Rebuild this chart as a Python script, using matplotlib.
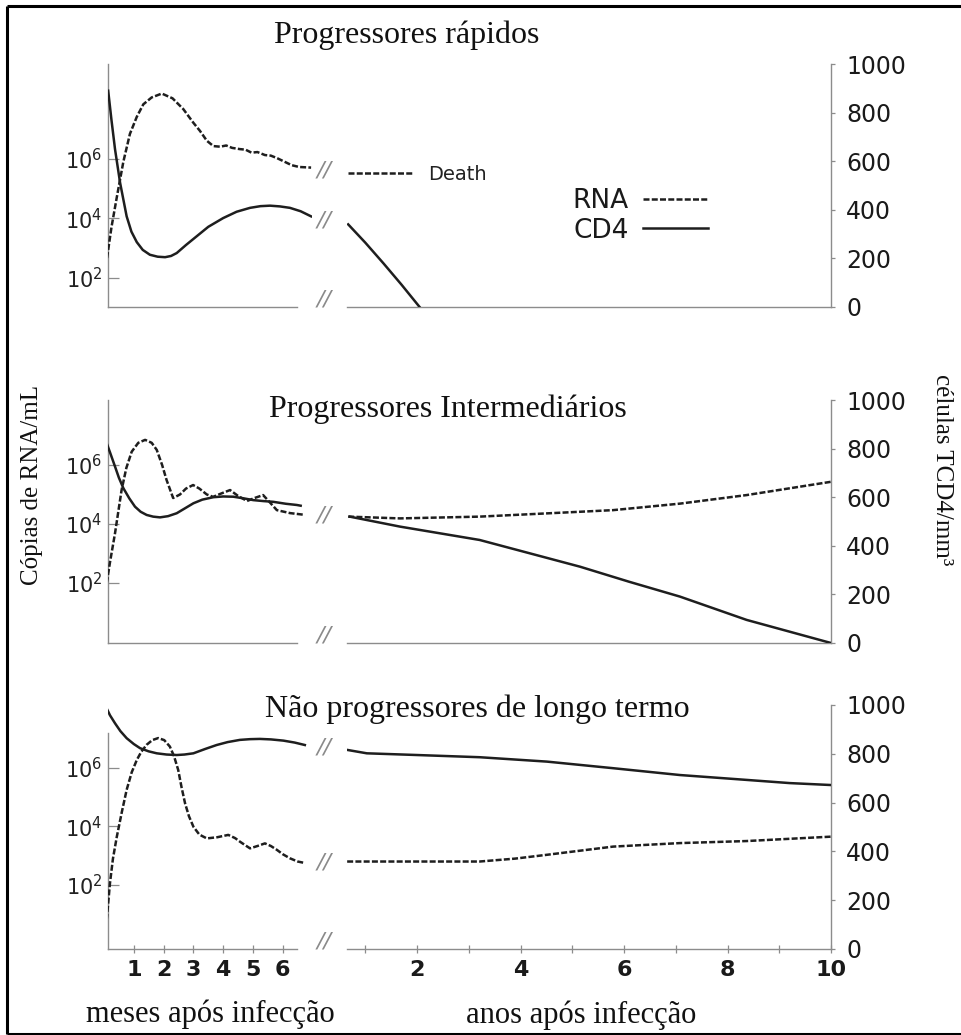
import numpy as np
import matplotlib
matplotlib.use("Agg")
import matplotlib.pyplot as plt
from matplotlib.lines import Line2D
from matplotlib.ticker import NullLocator
from matplotlib.transforms import blended_transform_factory

# ---------------- data ----------------
# Progressores rápidos
rap_rna_months = [0.10, 0.25, 0.43, 0.65, 0.87, 1.10, 1.32, 1.60, 1.94, 2.30, 2.66, 3.00, 3.22,
                  3.45, 3.67, 3.90, 4.10, 4.30, 4.55, 4.75, 4.95, 5.15, 5.40, 5.60, 5.80, 6.05,
                  6.30, 6.55, 6.95]
rap_rna_months_log = [2.67, 3.70, 4.71, 5.90, 6.83, 7.40, 7.82, 8.05, 8.18, 8.02, 7.66, 7.20, 6.93,
                      6.60, 6.42, 6.40, 6.44, 6.36, 6.32, 6.30, 6.20, 6.22, 6.12, 6.10, 6.02, 5.90,
                      5.78, 5.72, 5.70]
rap_cd4_months = [0.14, 0.25, 0.37, 0.54, 0.76, 0.92, 1.10, 1.30, 1.54, 1.80, 2.05, 2.25, 2.44,
                  2.75, 3.11, 3.50, 4.00, 4.45, 4.90, 5.25, 5.57, 5.90, 6.24, 6.60, 6.95]
rap_cd4_months_val = [890, 770, 649, 511, 373, 310, 267, 235, 215, 207, 205, 210, 222,
                      255, 291, 330, 366, 392, 408, 415, 417, 414, 408, 394, 373]
rap_rna_years = [0.67, 1.92]
rap_rna_years_log = [5.53, 5.53]
rap_cd4_years = [0.67, 1.00, 1.35, 1.70, 2.05]
rap_cd4_years_val = [340, 265, 180, 92, 0]

# Progressores Intermediários
int_rna_months = [0.09, 0.20, 0.37, 0.59, 0.75, 0.93, 1.15, 1.38, 1.60, 1.77, 1.95, 2.10, 2.32,
                  2.55, 2.75, 2.99, 3.20, 3.45, 3.66, 3.90, 4.23, 4.50, 4.80, 5.05, 5.34, 5.55,
                  5.80, 6.24, 6.74]
int_rna_months_log = [2.00, 2.70, 3.69, 5.15, 5.90, 6.45, 6.75, 6.85, 6.75, 6.51, 6.00, 5.49, 4.88,
                      5.00, 5.20, 5.32, 5.20, 5.00, 4.92, 5.02, 5.15, 4.95, 4.78, 4.88, 4.98, 4.75,
                      4.47, 4.37, 4.31]
int_cd4_months = [0.09, 0.20, 0.37, 0.50, 0.65, 0.85, 1.04, 1.23, 1.43, 1.65, 1.88, 2.15, 2.44,
                  2.70, 3.00, 3.30, 3.67, 4.00, 4.34, 4.70, 5.01, 5.35, 5.68, 6.10, 6.47, 6.60]
int_cd4_months_val = [822, 785, 726, 680, 637, 595, 561, 540, 527, 520, 517, 522, 534,
                      553, 575, 590, 600, 603, 602, 595, 588, 584, 581, 573, 568, 565]
int_rna_years = [0.67, 1.67, 3.21, 4.51, 5.79, 7.08, 8.37, 10.0]
int_rna_years_log = [4.25, 4.19, 4.25, 4.36, 4.47, 4.69, 4.98, 5.43]
int_cd4_years = [0.70, 1.67, 3.21, 4.18, 5.15, 6.10, 7.08, 8.37, 10.0]
int_cd4_years_val = [520, 479, 424, 369, 314, 252, 191, 95, 0]

# Não progressores de longo termo
ltnp_rna_months = [0.09, 0.20, 0.30, 0.43, 0.60, 0.76, 0.93, 1.10, 1.25, 1.43, 1.62, 1.82, 2.02,
                   2.21, 2.35, 2.49, 2.60, 2.72, 2.85, 3.00, 3.20, 3.45, 3.80, 4.17, 4.40, 4.56,
                   4.75, 4.90, 5.15, 5.40, 5.60, 5.80, 6.00, 6.24, 6.50, 6.69]
ltnp_rna_months_log = [0.80, 2.06, 2.90, 3.65, 4.50, 5.25, 5.85, 6.27, 6.55, 6.79, 6.95, 7.02, 6.95,
                       6.73, 6.40, 5.93, 5.35, 4.79, 4.35, 3.99, 3.72, 3.59, 3.63, 3.71, 3.60, 3.48,
                       3.35, 3.25, 3.33, 3.42, 3.33, 3.20, 3.05, 2.91, 2.80, 2.76]
ltnp_cd4_months = [0.09, 0.20, 0.37, 0.55, 0.76, 1.00, 1.21, 1.50, 1.77, 2.10, 2.44, 2.70, 3.00,
                   3.40, 3.78, 4.15, 4.56, 4.90, 5.23, 5.60, 6.02, 6.40, 6.74]
ltnp_cd4_months_val = [986, 958, 925, 893, 864, 840, 823, 810, 802, 797, 795, 797, 802,
                       820, 836, 848, 857, 860, 861, 859, 854, 846, 836]
ltnp_rna_years = [0.65, 2.00, 3.21, 3.90, 4.51, 5.79, 7.08, 8.37, 10.0]
ltnp_rna_years_log = [2.80, 2.80, 2.80, 2.90, 3.03, 3.31, 3.43, 3.50, 3.65]
ltnp_cd4_years = [0.65, 1.03, 2.00, 3.21, 4.51, 5.79, 7.08, 8.37, 9.20, 10.0]
ltnp_cd4_years_val = [816, 802, 795, 786, 768, 741, 713, 693, 680, 672]

titles = ["Progressores rápidos", "Progressores Intermediários", "Não progressores de longo termo"]
rna_ticks = [1e2, 1e4, 1e6]
rna_tick_labels = ["$10^2$", "$10^4$", "$10^6$"]
cd4_ticks = [0, 200, 400, 600, 800, 1000]
month_ticks = [1, 2, 3, 4, 5, 6]
year_ticks = [1, 2, 3, 4, 5, 6, 7, 8, 9, 10]
year_tick_labels = ["", "2", "", "4", "", "6", "", "8", "", "10"]
legend_labels = ["RNA", "CD4"]

# ---------------- layout ----------------
W, H = 962, 1035
fig = plt.figure(figsize=(W / 100, H / 100), dpi=100)
fig.patch.set_facecolor("white")

SERIF = ["Liberation Serif", "DejaVu Serif"]
SANS = ["DejaVu Sans"]
LINE_C = "#1e1e1e"
SPINE_C = "#8c8c8c"
DASH = (0, (2.4, 0.9))
LW = 1.8


def box(x0, x1, ytop, ybot):
    return [x0 / W, 1 - ybot / H, (x1 - x0) / W, (ybot - ytop) / H]


def hide_twin(ax):
    for s in ax.spines.values():
        s.set_visible(False)
    ax.yaxis.set_minor_locator(NullLocator())
    ax.set_yticks([])
    ax.tick_params(which="both", left=False, right=False, bottom=False, top=False,
                   labelleft=False, labelright=False, labelbottom=False, labeltop=False)
    ax.patch.set_alpha(0)


panels = [
    dict(ytop=64, ybot=307, loglim=(1.03, 9.17), left_top=None,
         title_xy=(407, 43), cd4_break=True,
         rna_m=(rap_rna_months, rap_rna_months_log), cd4_m=(rap_cd4_months, rap_cd4_months_val),
         rna_y=(rap_rna_years, rap_rna_years_log), cd4_y=(rap_cd4_years, rap_cd4_years_val),
         xticks=False),
    dict(ytop=400, ybot=643, loglim=(-0.03, 8.2), left_top=None,
         title_xy=(448, 417), cd4_break=False,
         rna_m=(int_rna_months, int_rna_months_log), cd4_m=(int_cd4_months, int_cd4_months_val),
         rna_y=(int_rna_years, int_rna_years_log), cd4_y=(int_cd4_years, int_cd4_years_val),
         xticks=False),
    dict(ytop=705, ybot=949, loglim=(-0.19, 8.15), left_top=7.2,
         title_xy=(477, 717), cd4_break=True,
         rna_m=(ltnp_rna_months, ltnp_rna_months_log), cd4_m=(ltnp_cd4_months, ltnp_cd4_months_val),
         rna_y=(ltnp_rna_years, ltnp_rna_years_log), cd4_y=(ltnp_cd4_years, ltnp_cd4_years_val),
         xticks=True),
]

BREAK_X = 324 / W

for i, p in enumerate(panels):
    # ----- months segment -----
    ax_m = fig.add_axes(box(108, 312, p["ytop"], p["ybot"]))
    ax_mc = ax_m.twinx()
    ax_m.patch.set_alpha(0)
    ax_m.set_xlim(0.134, 6.98)
    ax_m.set_yscale("log")
    ax_m.set_ylim(10 ** p["loglim"][0], 10 ** p["loglim"][1])
    ax_m.yaxis.tick_left()
    ax_m.spines["top"].set_visible(False)
    ax_m.spines["right"].set_visible(False)
    for s in ("left", "bottom"):
        ax_m.spines[s].set_color(SPINE_C)
        ax_m.spines[s].set_linewidth(1.0)
    ax_m.spines["bottom"].set_bounds(0.134, 6.48)
    if p["left_top"] is not None:
        ax_m.spines["left"].set_bounds(10 ** p["loglim"][0], 10 ** p["left_top"])
    ax_m.yaxis.set_minor_locator(NullLocator())
    ax_m.set_yticks(rna_ticks)
    ax_m.set_yticklabels(rna_tick_labels)
    ax_m.tick_params(axis="y", direction="in", length=8, width=0.9, color=SPINE_C,
                     pad=4, labelsize=15, labelcolor="#222222")
    if p["xticks"]:
        ax_m.set_xticks(month_ticks)
        ax_m.set_xticklabels([str(m) for m in month_ticks])
        ax_m.tick_params(axis="x", direction="inout", length=6, width=0.9, color=SPINE_C,
                         pad=5, labelsize=16, labelcolor="#1a1a1a")
        for t in ax_m.get_xticklabels():
            t.set_fontweight("bold")
    else:
        ax_m.set_xticks([])

    ax_m.plot(p["rna_m"][0], 10 ** np.array(p["rna_m"][1]),
              color=LINE_C, lw=LW, linestyle=DASH, zorder=3)
    hide_twin(ax_mc)
    ax_mc.set_ylim(0, 1000)
    ax_mc.plot(p["cd4_m"][0], p["cd4_m"][1], color=LINE_C, lw=LW, zorder=3)

    # ----- years segment -----
    ax_y = fig.add_axes(box(347, 831, p["ytop"], p["ybot"]))
    ax_yl = ax_y.twinx()
    ax_y.patch.set_alpha(0)
    ax_y.set_xlim(0.647, 10)
    ax_y.set_ylim(0, 1000)
    ax_y.spines["top"].set_visible(False)
    ax_y.spines["left"].set_visible(False)
    for s in ("right", "bottom"):
        ax_y.spines[s].set_color(SPINE_C)
        ax_y.spines[s].set_linewidth(1.0)
    ax_y.yaxis.tick_right()
    ax_y.set_yticks(cd4_ticks)
    ax_y.set_yticklabels([str(v) for v in cd4_ticks])
    ax_y.tick_params(axis="y", direction="out", length=3, width=0.9, color=SPINE_C,
                     pad=8, labelsize=17, labelcolor="#1a1a1a")
    if p["xticks"]:
        ax_y.set_xticks(year_ticks)
        ax_y.set_xticklabels(year_tick_labels)
        ax_y.tick_params(axis="x", direction="inout", length=6, width=0.9, color=SPINE_C,
                         pad=5, labelsize=16, labelcolor="#1a1a1a")
        for t in ax_y.get_xticklabels():
            t.set_fontweight("bold")
    else:
        ax_y.set_xticks([])

    cd4_line_y, = ax_y.plot(p["cd4_y"][0], p["cd4_y"][1], color=LINE_C, lw=LW, zorder=3)
    hide_twin(ax_yl)
    ax_yl.set_yscale("log")
    ax_yl.yaxis.set_minor_locator(NullLocator())
    ax_yl.set_yticks([])
    ax_yl.set_ylim(10 ** p["loglim"][0], 10 ** p["loglim"][1])
    rna_line_y, = ax_yl.plot(p["rna_y"][0], 10 ** np.array(p["rna_y"][1]),
                             color=LINE_C, lw=LW, linestyle=DASH, zorder=3)

    # ----- axis-break marks -----
    brk_kw = dict(ha="center", va="center", fontsize=16, color="#8a8a8a",
                  family=SANS, fontstyle="italic")
    fig.text(BREAK_X, 0.03, "//", transform=blended_transform_factory(fig.transFigure, ax_m.transAxes),
             **brk_kw)
    rna_mid = 10 ** ((p["rna_m"][1][-1] + p["rna_y"][1][0]) / 2)
    fig.text(BREAK_X, rna_mid, "//", transform=blended_transform_factory(fig.transFigure, ax_m.transData),
             **brk_kw)
    if p["cd4_break"]:
        cd4_mid = (p["cd4_m"][1][-1] + p["cd4_y"][1][0]) / 2
        fig.text(BREAK_X, cd4_mid, "//",
                 transform=blended_transform_factory(fig.transFigure, ax_mc.transData), **brk_kw)

    # ----- title -----
    fig.text(p["title_xy"][0] / W, 1 - p["title_xy"][1] / H, titles[i], ha="center",
             va="baseline", fontsize=23, family=SERIF, color="#111111")

    if i == 0:
        ax_yl.annotate("Death", xy=(p["rna_y"][0][-1], 10 ** p["rna_y"][1][-1]),
                       xytext=(11, -1), textcoords="offset points", ha="left", va="center",
                       fontsize=14, family=SANS, color="#222222")
        leg = ax_yl.legend([rna_line_y, cd4_line_y], legend_labels, markerfirst=False,
                           frameon=False, loc="center",
                           bbox_to_anchor=(640 / W, 1 - 216 / H), bbox_transform=fig.transFigure,
                           prop={"family": SANS, "size": 19}, handlelength=2.45,
                           handletextpad=0.55, labelspacing=0.12, borderpad=0)
        for t in leg.get_texts():
            t.set_color("#1a1a1a")

# ----- axis labels -----
fig.text(32 / W, 1 - 485 / H, "Cópias de RNA/mL", rotation=90, ha="center", va="center",
         fontsize=18, family=SERIF, color="#111111")
fig.text(942 / W, 1 - 470 / H, "células TCD4/mm³", rotation=270, ha="center", va="center",
         fontsize=18, family=SERIF, color="#111111")
fig.text(210 / W, 1 - 1022 / H, "meses após infecção", ha="center", va="baseline",
         fontsize=22, family=SERIF, color="#111111")
fig.text(581 / W, 1 - 1023 / H, "anos após infecção", ha="center", va="baseline",
         fontsize=22, family=SERIF, color="#111111")

# ----- outer frame (top, left, bottom) -----
fr = dict(color="black", lw=2.2, transform=fig.transFigure, solid_capstyle="butt")
fig.add_artist(Line2D([7 / W, 1.0], [1 - 5.5 / H, 1 - 5.5 / H], **fr))
fig.add_artist(Line2D([7 / W, 7 / W], [1 - 5.5 / H, 1 - 1033.5 / H], **fr))
fig.add_artist(Line2D([7 / W, 1.0], [1 - 1033.5 / H, 1 - 1033.5 / H], **fr))

fig.savefig("out.png", dpi=100, facecolor="white")
